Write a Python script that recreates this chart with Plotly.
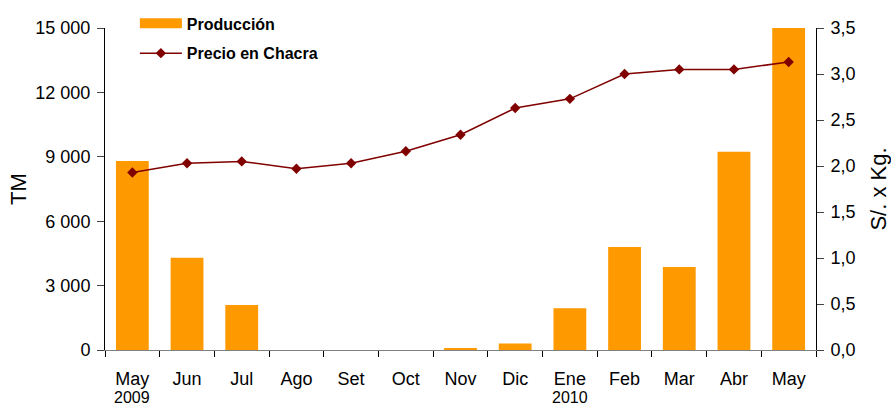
import plotly.graph_objects as go

# datos
meses = ["May", "Jun", "Jul", "Ago", "Set", "Oct", "Nov", "Dic", "Ene", "Feb", "Mar", "Abr", "May2"]
etiquetas = ["May", "Jun", "Jul", "Ago", "Set", "Oct", "Nov", "Dic", "Ene",
             "Feb", "Mar", "Abr", "May"]
anios = {"May": "2009", "Ene": "2010"}
produccion = [8800, 4300, 2100, 0, 0, 0, 80, 300, 1950, 4800, 3870, 9230, 15000]
precio = [1.93, 2.03, 2.05, 1.97, 2.03, 2.16, 2.34, 2.63, 2.73, 3.00, 3.05, 3.05, 3.13]

fuente = "Liberation Sans, Arial, sans-serif"
naranja = "#FF9900"
granate = "#800000"

fig = go.Figure()
fig.add_bar(x=meses, y=produccion, name="Producción", showlegend=False,
            marker_color=naranja, marker_line_width=0)
# entrada de leyenda con simbolo rectangular ancho
fig.add_scatter(x=[None], y=[None], name="Producción", mode="lines",
                legendgroup="a", line=dict(color=naranja, width=10))
fig.add_scatter(x=meses, y=precio, name="Precio en Chacra", yaxis="y2",
                mode="lines+markers", legendgroup="b",
                line=dict(color=granate, width=1.5),
                marker=dict(symbol="diamond", size=8, color=granate))

# años debajo de los meses
for mes, anio in anios.items():
    fig.add_annotation(x=mes, xref="x", y=-57 / 322, yref="paper",
                       yanchor="bottom", text=anio, showarrow=False,
                       font=dict(size=16), borderpad=0)

fig.update_layout(
    width=891, height=408,
    margin=dict(l=105, r=75, t=28, b=58, autoexpand=False),
    plot_bgcolor="white", paper_bgcolor="white",
    font=dict(family=fuente, size=18, color="black"),
    separators=", ",
    bargap=0.4,
    showlegend=True,
    legend=dict(x=0.042, y=1.067, xanchor="left", yanchor="top",
                traceorder="grouped", tracegroupgap=6,
                bgcolor="rgba(0,0,0,0)", itemwidth=42,
                font=dict(size=16, family=fuente, weight="bold")),
    xaxis=dict(type="category", tickmode="array", tickvals=meses, ticktext=etiquetas,
               range=[-0.5, len(meses) - 0.5],
               showline=True, linecolor="#808080", linewidth=1, automargin=False,
               ticks="outside", tickson="boundaries", ticklen=6, tickcolor="black",
               ticklabelstandoff=12, showgrid=False, tickfont=dict(size=18)),
    yaxis=dict(range=[0, 15000], tickvals=[0, 3000, 6000, 9000, 12000, 15000],
               tickformat=",d", showline=True, linecolor="black", linewidth=1,
               ticks="outside", ticklen=7, ticklabelstandoff=3,
               showgrid=False, zeroline=False, automargin=False,
               title=dict(text="TM", standoff=2), tickfont=dict(size=18)),
    yaxis2=dict(range=[0, 3.5], tickvals=[0, 0.5, 1, 1.5, 2, 2.5, 3, 3.5],
                tickformat=".1f", overlaying="y", side="right",
                showline=True, linecolor="black", linewidth=1, automargin=False,
                ticks="outside", ticklen=7, ticklabelstandoff=3,
                showgrid=False, zeroline=False,
                title=dict(text="S/. x Kg.", standoff=16), tickfont=dict(size=18)),
)

# quitar el margen del body para que la figura empiece en 0,0
fig.write_html("out.html", config={"displayModeBar": False},
               post_script="document.body.style.margin='0';")
